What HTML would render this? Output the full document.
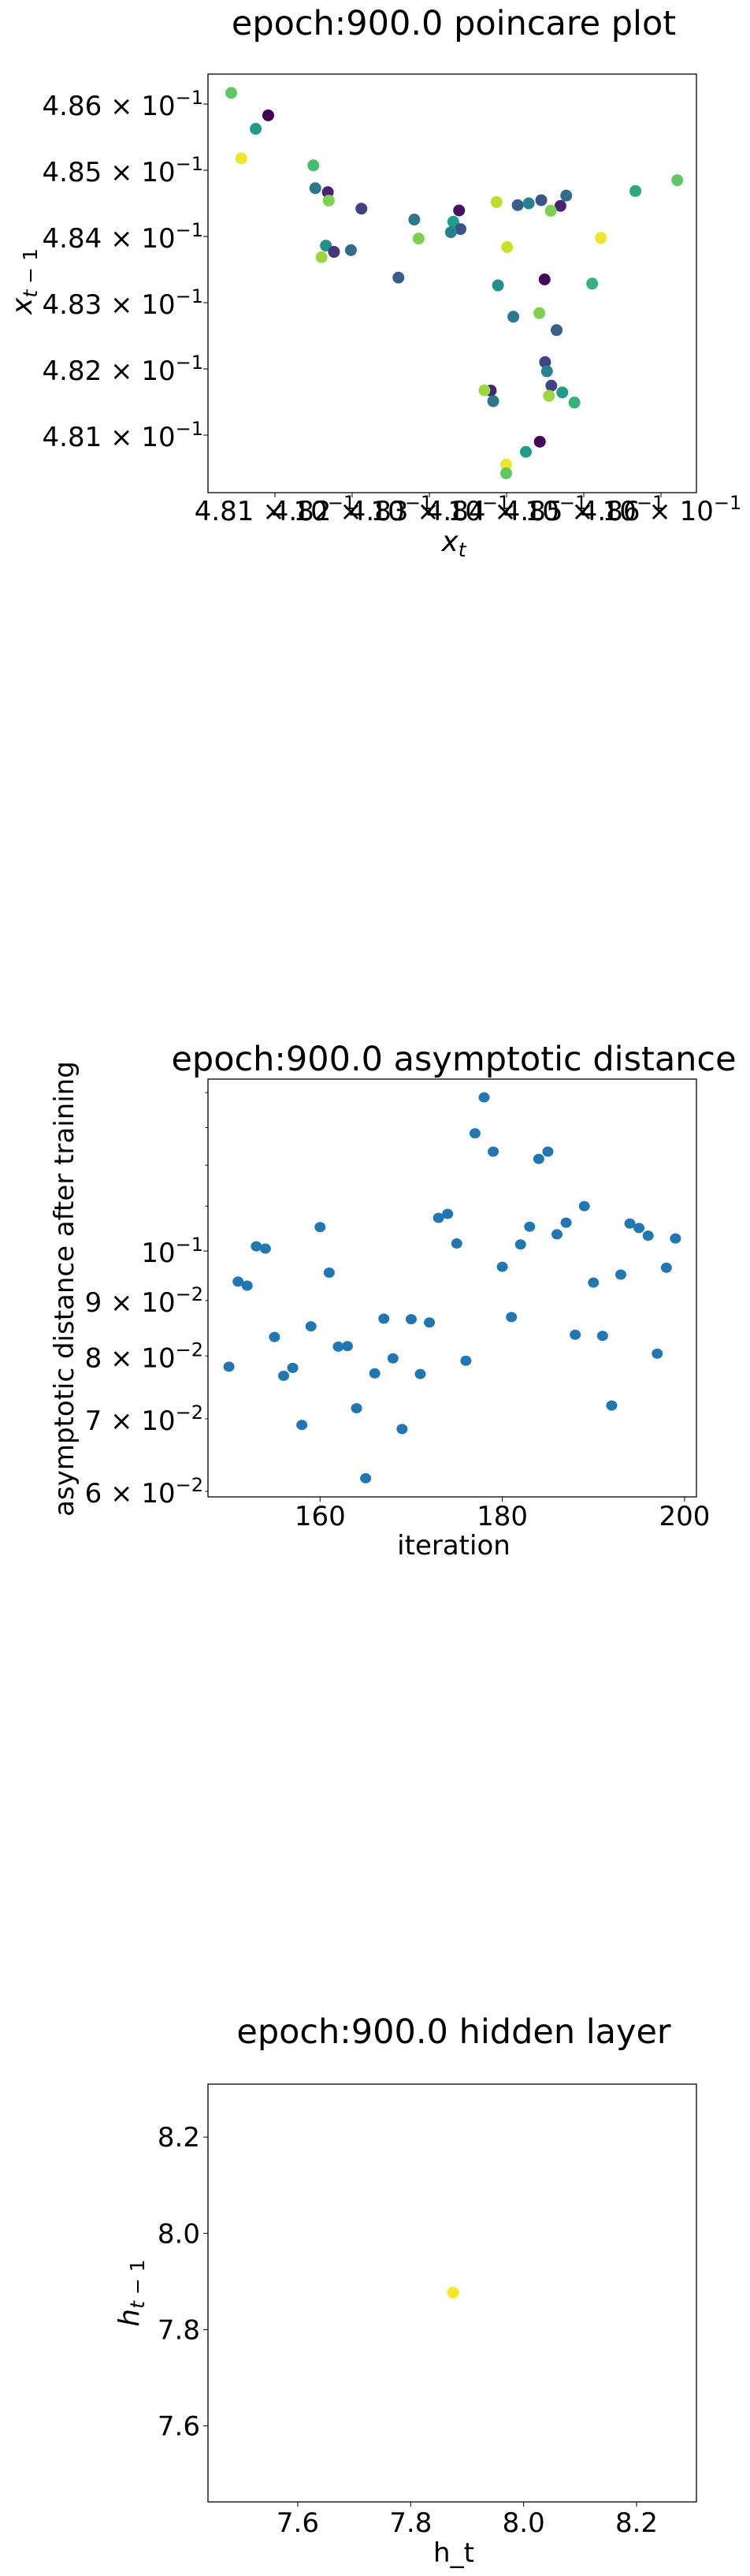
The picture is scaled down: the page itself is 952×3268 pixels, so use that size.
<!DOCTYPE html>
<html><head><meta charset="utf-8">
<style>
html,body{margin:0;padding:0;background:#fff;}
svg{display:block;}
text{font-family:"DejaVu Sans","Liberation Sans",sans-serif;fill:#000;}
</style></head>
<body>
<svg id="fig" width="952" height="3268" viewBox="0 0 952 3268" xmlns="http://www.w3.org/2000/svg">
<rect x="0" y="0" width="952" height="3268" fill="#fff"/>
</svg>
<script>
// ---- Poincare plot data (mantissa of value x 10^-1) ----
const poincareX = [4.80434,4.80913,4.80751,4.80564,4.81498,4.81523,4.81685,4.81697,4.82120,4.82805,4.83385,4.83310,4.83403,4.83279,4.82861,4.81660,4.81765,4.81604,4.81984,4.82600,4.83870,4.84144,4.84287,4.84449,4.84698,4.84773,4.84573,4.85669,4.86211,4.84007,4.85221,4.83889,4.84493,4.85109,4.84088,4.84424,4.84648,4.84499,4.84523,4.83795,4.83714,4.83827,4.84580,4.84722,4.84549,4.84879,4.84431,4.84250,4.83995,4.83995];
const poincareY = [4.86168,4.85829,4.85626,4.85180,4.85074,4.84729,4.84669,4.84542,4.84420,4.84255,4.84393,4.84223,4.84112,4.84064,4.83968,4.83862,4.83767,4.83687,4.83793,4.83379,4.84520,4.84473,4.84500,4.84548,4.84462,4.84617,4.84388,4.84686,4.84850,4.83840,4.83979,4.83261,4.83351,4.83288,4.82788,4.82842,4.82586,4.82102,4.81964,4.81673,4.81677,4.81513,4.81747,4.81645,4.81593,4.81492,4.80901,4.80747,4.80556,4.80424];
const poincareC = [0.75,0.0,0.55,0.98,0.7,0.4,0.1,0.8,0.2,0.4,0.05,0.55,0.25,0.45,0.8,0.5,0.15,0.85,0.35,0.3,0.9,0.3,0.45,0.25,0.1,0.35,0.8,0.6,0.75,0.92,0.98,0.5,0.02,0.65,0.4,0.8,0.3,0.2,0.45,0.1,0.85,0.4,0.2,0.55,0.85,0.65,0.02,0.55,0.98,0.75];
const poincareTicks = [4.81,4.82,4.83,4.84,4.85,4.86];
const poincareTickLabels = ["4.81","4.82","4.83","4.84","4.85","4.86"];

// ---- Asymptotic distance data ----
const asymIter = [150,151,152,153,154,155,156,157,158,159,160,161,162,163,164,165,166,167,168,169,170,171,172,173,174,175,176,177,178,179,180,181,182,183,184,185,186,187,188,189,190,191,192,193,194,195,196,197,198,199];
const asymDist = [0.0782,0.0937,0.0929,0.1010,0.1005,0.0833,0.0767,0.0780,0.0691,0.0852,0.1052,0.0955,0.0816,0.0817,0.0716,0.0617,0.0771,0.0866,0.0796,0.0685,0.0865,0.0770,0.0859,0.1073,0.1082,0.1016,0.0792,0.1284,0.1386,0.1235,0.0967,0.0869,0.1014,0.1053,0.1216,0.1235,0.1036,0.1062,0.0837,0.1100,0.0935,0.0835,0.0720,0.0951,0.1060,0.1050,0.1033,0.0804,0.0965,0.1027];
const asymXTicks = [160,180,200];
const asymYTicks = [0.06,0.07,0.08,0.09,0.1];
const asymYTickMant = ["6","7","8","9",""];
const asymYTickExp = ["\u22122","\u22122","\u22122","\u22122","\u22121"];
const asymMinor = [0.11,0.12,0.13,0.14];

// ---- Hidden layer data ----
const hiddenX = [7.875];
const hiddenY = [7.877];
const hiddenC = [1.0];
const hiddenTicks = [7.6,7.8,8.0,8.2];
const hiddenTickLabels = ["7.6","7.8","8.0","8.2"];

const NS = "http://www.w3.org/2000/svg";
const fig = document.getElementById('fig');
function mk(tag, attrs, parent){ const e=document.createElementNS(NS,tag); for(const k in attrs) e.setAttribute(k,attrs[k]); (parent||fig).appendChild(e); return e; }
function viridis(t){
  const s=[[68,1,84],[72,40,120],[62,74,137],[49,104,142],[38,130,142],[31,158,137],[53,183,121],[110,206,88],[181,222,43],[253,231,37]];
  t=Math.max(0,Math.min(1,t))*(s.length-1); const i=Math.min(Math.floor(t),s.length-2), f=t-i;
  const c=s[i].map((v,k)=>Math.round(v+(s[i+1][k]-v)*f)); return `rgb(${c[0]},${c[1]},${c[2]})`;
}
function lin(d0,d1,r0,r1){ return v=>r0+(v-d0)/(d1-d0)*(r1-r0); }
function axesBox(L,T,R,B,name){
  const r=mk('rect',{x:L,y:T,width:R-L,height:B-T,fill:'none',stroke:'#000','stroke-width':1.3});
  
  
}
function label(x,y,txt,size,anchor,name,extra){
  const t=mk('text',Object.assign({x:x,y:y,'font-size':size,'text-anchor':anchor||'middle'},extra||{}));
  t.textContent=txt;
  
  
  return t;
}
function sciLabel(x,y,mant,exp,size,anchor,name){
  const t=mk('text',{x:x,y:y,'font-size':size,'text-anchor':anchor});
  
  
  const a=mk('tspan',{},t); a.textContent=(mant?mant+" \u00d7 ":"")+"10";
  const b=mk('tspan',{dy:-14,'font-size':24},t); b.textContent=exp;
  return t;
}

// ===== Plot 1: Poincare =====
(function(){
  const L=264,T=94,R=884,B=625;
  const sx=lin(4.80133,4.86459,L,R), sy=lin(4.80131,4.86452,B,T);
  label(576,44,"epoch:900.0 poincare plot",43,'middle','poincare-title');
  for(let i=0;i<poincareX.length;i++){
    const c=mk('circle',{cx:sx(poincareX[i]),cy:sy(poincareY[i]),r:7.5,fill:viridis(poincareC[i])});
    
    
  }
  axesBox(L,T,R,B,'poincare-axes');
  poincareTicks.forEach((v,i)=>{
    const x=sx(v); mk('line',{x1:x,y1:B,x2:x,y2:B+6,stroke:'#000','stroke-width':1});
    sciLabel(x,660,poincareTickLabels[i],"\u22121",34,'middle','poincare-x-tick-label');
    const y=sy(v); mk('line',{x1:L,y1:y,x2:L-6,y2:y,stroke:'#000','stroke-width':1});
    sciLabel(L-6,y+14,poincareTickLabels[i],"\u22121",34,'end','poincare-y-tick-label');
  });
  const xl=label(576,699,"",36,'middle','poincare-x-label');
  const a=mk('tspan',{'font-style':'italic'},xl); a.textContent="x";
  const b=mk('tspan',{'font-style':'italic','font-size':25,dy:7},xl); b.textContent="t";
  const yl=label(0,0,"",36,'middle','poincare-y-label',{transform:'translate(40,357) rotate(-90)'});
  const c1=mk('tspan',{'font-style':'italic'},yl); c1.textContent="x";
  const c2=mk('tspan',{'font-size':25,dy:7},yl); c2.innerHTML="<tspan font-style='italic'>t</tspan> \u2212 1";
})();

// ===== Plot 2: Asymptotic distance =====
(function(){
  const L=264,T=1369,R=884,B=1899;
  const sx=lin(147.7,201.3,L,R);
  const k=597, y06=1892;
  const sy=v=>y06-k*Math.log(v/0.06);
  label(576,1358,"epoch:900.0 asymptotic distance",43,'middle','asymptotic-title');
  for(let i=0;i<asymIter.length;i++){
    const c=mk('ellipse',{cx:sx(asymIter[i]),cy:sy(asymDist[i]),rx:7,ry:6.5,fill:'#1f77b4'});
    
    
  }
  axesBox(L,T,R,B,'asymptotic-axes');
  asymXTicks.forEach(v=>{
    const x=sx(v); mk('line',{x1:x,y1:B,x2:x,y2:B+6,stroke:'#000','stroke-width':1});
    label(x,1935,String(v),34,'middle','asymptotic-x-tick-label');
  });
  asymYTicks.forEach((v,i)=>{
    const y=sy(v); mk('line',{x1:L,y1:y,x2:L-(i==4?6:3.5),y2:y,stroke:'#000','stroke-width':1});
    sciLabel(L-6,y+14,asymYTickMant[i],asymYTickExp[i],34,'end','asymptotic-y-tick-label');
  });
  asymMinor.forEach(v=>{ const y=sy(v); mk('line',{x1:L,y1:y,x2:L-3.5,y2:y,stroke:'#000','stroke-width':1}); });
  label(576,1972,"iteration",34,'middle','asymptotic-x-label');
  label(0,0,"asymptotic distance after training",34,'middle','asymptotic-y-label',{transform:'translate(93,1635) rotate(-90)'});
})();

// ===== Plot 3: Hidden layer =====
(function(){
  const L=264,T=2644,R=884,B=3174;
  const sx=lin(7.441,8.306,L,R), sy=lin(7.442,8.31,B,T);
  label(576,2592,"epoch:900.0 hidden layer",43,'middle','hidden-title');
  for(let i=0;i<hiddenX.length;i++){
    const c=mk('circle',{cx:sx(hiddenX[i]),cy:sy(hiddenY[i]),r:7.5,fill:viridis(hiddenC[i])});
    
    
  }
  axesBox(L,T,R,B,'hidden-axes');
  hiddenTicks.forEach((v,i)=>{
    const x=sx(v); mk('line',{x1:x,y1:B,x2:x,y2:B+6,stroke:'#000','stroke-width':1});
    label(x,3212,hiddenTickLabels[i],34,'middle','hidden-x-tick-label');
    const y=sy(v); mk('line',{x1:L,y1:y,x2:L-6,y2:y,stroke:'#000','stroke-width':1});
    label(L-10,y+12,hiddenTickLabels[i],34,'end','hidden-y-tick-label');
  });
  label(576,3250,"h_t",34,'middle','hidden-x-label');
  const yl=label(0,0,"",36,'middle','hidden-y-label',{transform:'translate(176,2909) rotate(-90)'});
  const c1=mk('tspan',{'font-style':'italic'},yl); c1.textContent="h";
  const c2=mk('tspan',{'font-size':25,dy:7},yl); c2.innerHTML="<tspan font-style='italic'>t</tspan> \u2212 1";
})();
</script>
</body></html>
